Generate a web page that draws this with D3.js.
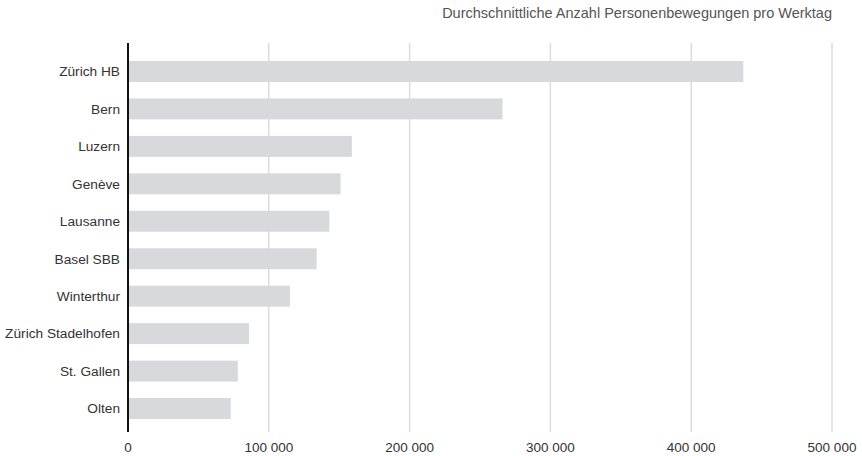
<!DOCTYPE html>
<html>
<head>
<meta charset="utf-8">
<script src="https://cdn.jsdelivr.net/npm/d3@7"></script>
<style>
  html, body { margin: 0; padding: 0; background: #fff; }
  svg { display: block; font-family: "Liberation Sans", Arial, sans-serif; }
</style>
</head>
<body>
<svg id="chart" width="862" height="456"></svg>
<script>
const stations = ["Zürich HB", "Bern", "Luzern", "Genève", "Lausanne", "Basel SBB", "Winterthur", "Zürich Stadelhofen", "St. Gallen", "Olten"];
const movements = [437000, 266000, 159000, 151000, 143000, 134000, 115000, 86000, 78000, 73000];
const xTicks = [0, 100000, 200000, 300000, 400000, 500000];
const title = "Durchschnittliche Anzahl Personenbewegungen pro Werktag";

const svg = d3.select("#chart");
const x = d3.scaleLinear().domain([0, 500000]).range([128, 832]);
const y = d3.scaleBand().domain(stations).range([43, 437]).paddingInner(0.44).paddingOuter(0.48);
const loc = d3.formatLocale({decimal: ".", thousands: " ", grouping: [3], currency: ["", ""]});
const fmt = loc.format(",d");

// gridlines
svg.append("g").selectAll("line").data(xTicks.filter(d => d > 0)).join("line")
  .attr("x1", d => x(d)).attr("x2", d => x(d))
  .attr("y1", 43).attr("y2", 432)
  .attr("stroke", "#dcdcdc").attr("stroke-width", 1.5);

// bars
svg.append("g").selectAll("rect").data(stations).join("rect")
  .attr("x", x(0))
  .attr("y", d => y(d))
  .attr("width", (d, i) => x(movements[i]) - x(0))
  .attr("height", y.bandwidth())
  .attr("fill", "#d8d9db");

// y axis line
svg.append("line")
  .attr("x1", x(0)).attr("x2", x(0))
  .attr("y1", 43).attr("y2", 432)
  .attr("stroke", "#111").attr("stroke-width", 2);

// category labels
svg.append("g").selectAll("text").data(stations).join("text")
  .attr("x", 120)
  .attr("y", d => y(d) + y.bandwidth() / 2)
  .attr("dy", "0.35em")
  .attr("text-anchor", "end")
  .attr("font-size", 13.7)
  .attr("fill", "#333")
  .text(d => d);

// x tick labels
svg.append("g").selectAll("text").data(xTicks).join("text")
  .attr("x", d => x(d))
  .attr("y", 452)
  .attr("text-anchor", "middle")
  .attr("font-size", 13.5)
  .attr("fill", "#333")
  .text(d => fmt(d));

// title
svg.append("text")
  .attr("x", 832).attr("y", 18)
  .attr("text-anchor", "end")
  .attr("font-size", 14.5)
  .attr("fill", "#555")
  .text(title);
</script>
</body>
</html>
